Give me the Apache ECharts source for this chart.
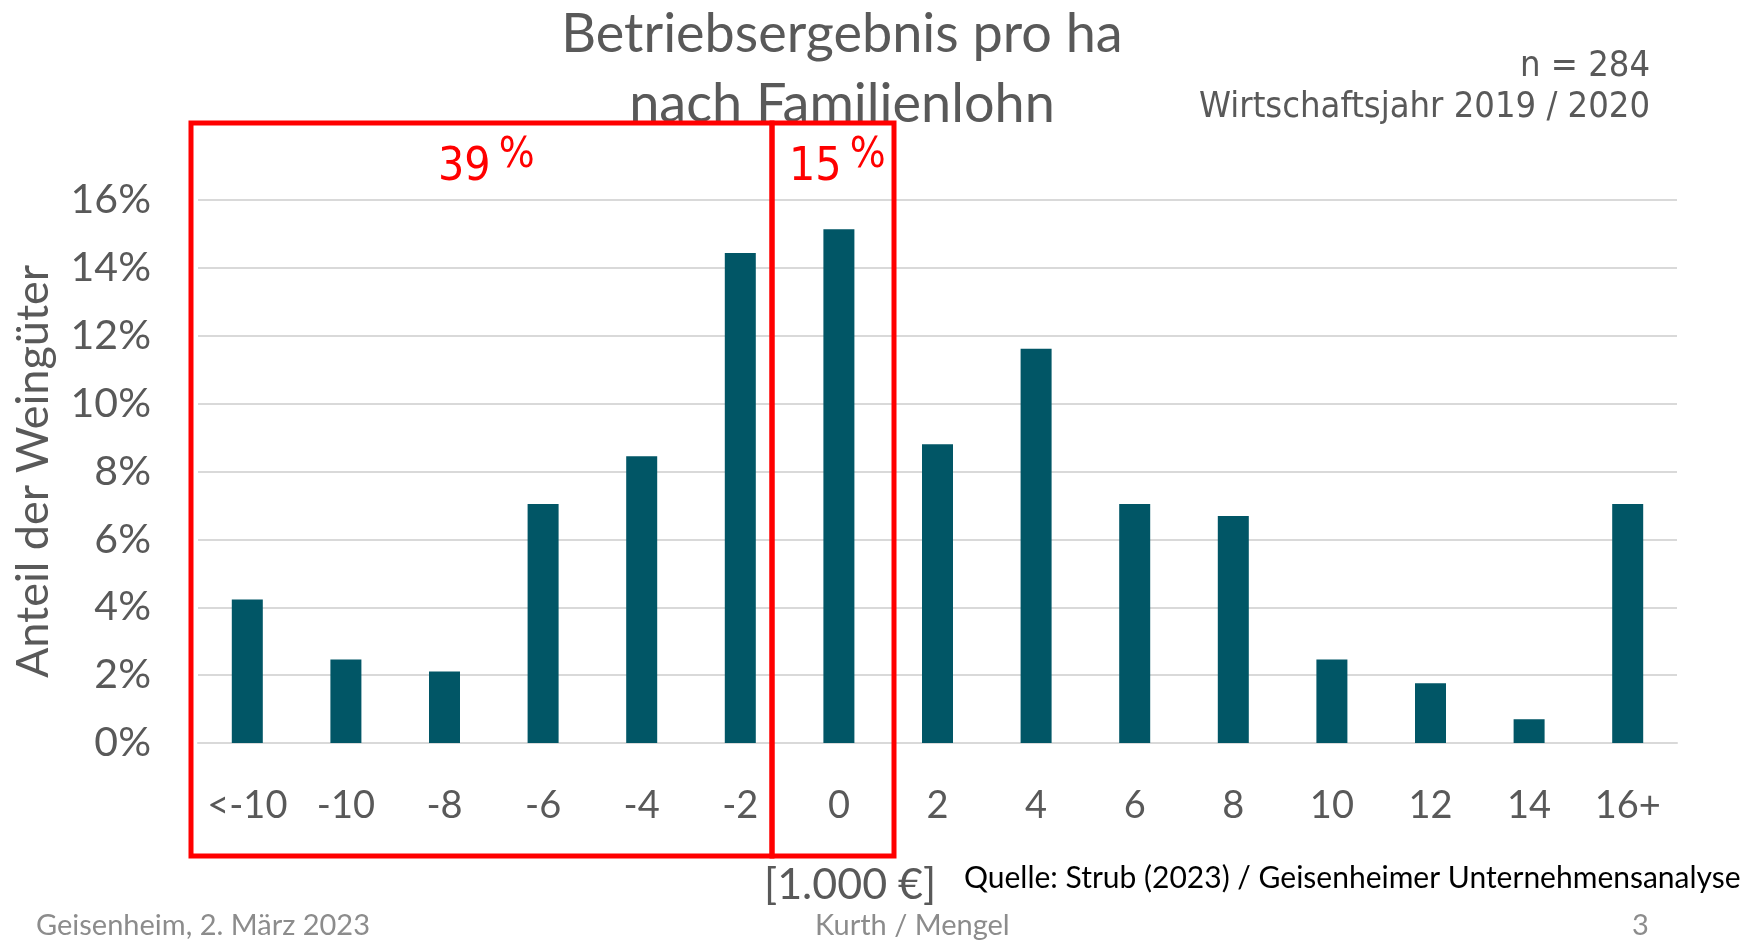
<!DOCTYPE html>
<html>
<head>
<meta charset="utf-8">
<script src="https://cdn.jsdelivr.net/npm/echarts/dist/echarts.min.js"></script>
<style>
html,body{margin:0;padding:0;background:#fff;}
#chart{width:1754px;height:941px;}
</style>
</head>
<body>
<div id="chart"></div>
<script>
// Data (Anteil der Weingüter in %, n = 284)
const categories = ['<-10', '-10', '-8', '-6', '-4', '-2', '0', '2', '4', '6', '8', '10', '12', '14', '16+'];
const shares = [4.23, 2.46, 2.11, 7.04, 8.45, 14.44, 15.14, 8.80, 11.62, 7.04, 6.69, 2.46, 1.76, 0.70, 7.04];
const yTicks = [0, 2, 4, 6, 8, 10, 12, 14, 16];
const groupLabels = ['39', '15'];
const titleText = 'Betriebsergebnis pro ha\nnach Familienlohn';
const sampleText = 'n = 284';
const yearText = 'Wirtschaftsjahr 2019 / 2020';
const unitText = '[1.000 €]';
const sourceText = 'Quelle: Strub (2023) / Geisenheimer Unternehmensanalyse';
const footerLeft = 'Geisenheim, 2. März 2023';
const footerMid = 'Kurth / Mengel';
const footerRight = '3';

const FONT = 'Lato, "Open Sans", sans-serif';
const NARROW = '"Liberation Sans Narrow", "DejaVu Sans Condensed", sans-serif';
const GREY = '#595959';
const RED = '#ff0000';

const chart = echarts.init(document.getElementById('chart'));
chart.setOption({
  backgroundColor: '#ffffff',
  animation: false,
  title: {
    text: titleText,
    left: 837,
    textAlign: 'center',
    top: -5,
    textStyle: {fontFamily: FONT, fontSize: 54, fontWeight: 'normal', color: GREY, lineHeight: 70}
  },
  grid: {left: 198, right: 77, top: 200, bottom: 198, containLabel: false, outerBoundsMode: 'none'},
  xAxis: {
    type: 'category',
    data: categories,
    axisLine: {show: true, lineStyle: {color: '#d9d9d9', width: 2}},
    axisTick: {show: false},
    axisLabel: {interval: 0, fontFamily: FONT, fontSize: 38, color: GREY, margin: 44}
  },
  yAxis: {
    type: 'value',
    min: yTicks[0],
    max: yTicks[yTicks.length - 1],
    interval: 2,
    name: 'Anteil der Weingüter',
    nameLocation: 'middle',
    nameGap: 142,
    nameRotate: 90,
    nameTextStyle: {fontFamily: FONT, fontSize: 45, color: GREY},
    axisLine: {show: false},
    axisTick: {show: false},
    splitLine: {lineStyle: {color: '#d9d9d9', width: 2}},
    axisLabel: {fontFamily: FONT, fontSize: 41, color: GREY, margin: 47, formatter: '{value}%'}
  },
  series: [{
    type: 'bar',
    data: shares,
    barWidth: 31,
    itemStyle: {color: '#015666'}
  }],
  graphic: [
    {type: 'text', right: 104, top: 49, style: {text: sampleText, font: '36px ' + NARROW, fill: GREY, textAlign: 'right'}},
    {type: 'text', right: 104, top: 90, style: {text: yearText, font: '36px ' + NARROW, fill: GREY, textAlign: 'right'}},
    // red annotation boxes
    {type: 'rect', z: 100, shape: {x: 191, y: 123, width: 581, height: 733}, style: {fill: 'none', stroke: RED, lineWidth: 5}},
    {type: 'rect', z: 100, shape: {x: 772, y: 123, width: 122, height: 733}, style: {fill: 'none', stroke: RED, lineWidth: 5}},
    {type: 'text', z: 101, left: 438, top: 135, style: {text: '{n|' + groupLabels[0] + '}{p|%}', rich: {n: {fontFamily: NARROW, fontSize: 46, fill: RED, verticalAlign: 'bottom'}, p: {fontFamily: NARROW, fontSize: 42, fill: RED, padding: [0, 0, 14, 8]}}}},
    {type: 'text', z: 101, left: 789, top: 135, style: {text: '{n|' + groupLabels[1] + '}{p|%}', rich: {n: {fontFamily: NARROW, fontSize: 46, fill: RED, verticalAlign: 'bottom'}, p: {fontFamily: NARROW, fontSize: 42, fill: RED, padding: [0, 0, 14, 8]}}}},
    {type: 'text', left: 764, top: 864, style: {text: unitText, font: '43px ' + FONT, fill: GREY}},
    {type: 'text', left: 964, top: 863, style: {text: sourceText, font: '30px ' + FONT, fill: '#000000'}},
    {type: 'text', left: 36, top: 911, style: {text: footerLeft, font: '29px ' + FONT, fill: '#8c8c8c'}},
    {type: 'text', left: 815, top: 911, style: {text: footerMid, font: '29px ' + FONT, fill: '#8c8c8c'}},
    {type: 'text', left: 1632, top: 911, style: {text: footerRight, font: '29px ' + FONT, fill: '#8c8c8c'}}
  ]
});
</script>
</body>
</html>
